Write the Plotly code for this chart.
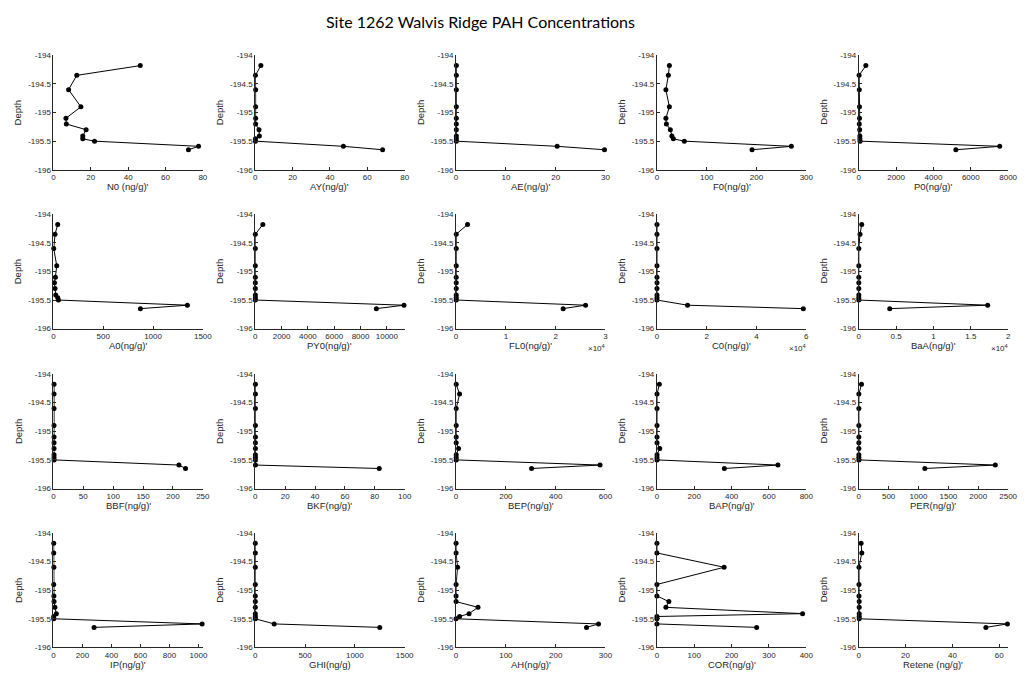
import plotly.graph_objects as go

# Sample depths (m), shared by every compound profile
depth = [-194.18, -194.35, -194.6, -194.9, -195.1, -195.2, -195.3, -195.41, -195.46, -195.5, -195.59, -195.65]

# PAH concentrations (ng/g) at each depth
N0 = [46.5, 12.5, 8.1, 14.7, 6.7, 6.9, 17.5, 15.7, 15.7, 22, 77.7, 72.3]
AY = [3, 0.1, 0.2, 0.2, 0.2, 0.2, 2.0, 2.2, 0.1, 0.1, 47.2, 68.2]
AE = [0.05, 0.05, 0.05, 0.05, 0.05, 0.05, 0.05, 0.05, 0.05, 0.05, 20.3, 29.8]
F0 = [25, 23, 18, 25, 18, 19, 27, 30, 33, 55, 270, 191]
P0 = [380, 20, 30, 40, 40, 30, 50, 60, 60, 70, 7550, 5200]
A0 = [43, 16, 3, 33, 20, 10, 16, 23, 43, 50, 1345, 873]
PY0 = [575, 5, 5, 5, 5, 5, 5, 10, 10, 10, 11300, 9200]
FL0 = [2300, 30, 30, 30, 30, 30, 30, 30, 30, 30, 26000, 21500]
C0 = [30, 30, 30, 30, 30, 30, 30, 30, 30, 30, 12300, 58800]
BaA = [400, 170, 10, 10, 10, 10, 10, 10, 10, 10, 17260, 4150]
BBF = [1, 1, 1, 1, 1, 1, 1, 1, 1, 1, 210, 221]
BKF = [0.1, 0.1, 0.1, 0.1, 0.1, 0.1, 0.1, 0.1, 0.1, 0.1, 0.1, 83]
BEP = [0.5, 14, 0.5, 0.5, 0.5, 0.5, 10, 0.5, 0.5, 0.5, 578, 303]
BAP = [13, 0.5, 0.5, 0.5, 0.5, 0.5, 15, 0.5, 0.5, 0.5, 648, 361]
PER = [46, 2, 2, 2, 2, 2, 2, 2, 2, 2, 2285, 1106]
IP = [2, 2, 3, 2, 3, 4, 10, 20, 2, 2, 1025, 280]
GHI = [0.5, 0.5, 0.5, 0.5, 0.5, 0.5, 0.5, 0.5, 0.5, 0.5, 190, 1250]
AH = [0, 0, 3, 0, 0, 0, 44, 26, 7, 0, 286, 262]
COR = [0, 0, 180, 0, 0, 32, 24, 390, 0, 0, 0, 267]
Retene = [1, 1.3, 0.1, 0.1, 0.1, 0.2, 0.2, 0.2, 0.2, 0.2, 63.5, 54.3]

series = [N0, AY, AE, F0, P0, A0, PY0, FL0, C0, BaA,
          BBF, BKF, BEP, BAP, PER, IP, GHI, AH, COR, Retene]

xlabels = ["N0 (ng/g)'", "AY(ng/g)'", "AE(ng/g)'", "F0(ng/g)'", "P0(ng/g)'",
           "A0(ng/g)'", "PY0(ng/g)'", "FL0(ng/g)'", "C0(ng/g)'", "BaA(ng/g)'",
           "BBF(ng/g)'", "BKF(ng/g)'", "BEP(ng/g)'", "BAP(ng/g)'", "PER(ng/g)'",
           "IP(ng/g)'", "GHI(ng/g)", "AH(ng/g)'", "COR(ng/g)'", "Retene (ng/g)'"]

# x-axis tick values (ng/g) and the text shown for them
xticks = [
    [0, 20, 40, 60, 80], [0, 20, 40, 60, 80], [0, 10, 20, 30], [0, 100, 200, 300],
    [0, 2000, 4000, 6000, 8000],
    [0, 500, 1000, 1500], [0, 2000, 4000, 6000, 8000, 10000], [0, 10000, 20000, 30000],
    [0, 20000, 40000, 60000], [0, 5000, 10000, 15000, 20000],
    [0, 50, 100, 150, 200, 250], [0, 20, 40, 60, 80, 100], [0, 200, 400, 600],
    [0, 200, 400, 600, 800], [0, 500, 1000, 1500, 2000, 2500],
    [0, 200, 400, 600, 800, 1000], [0, 500, 1000, 1500], [0, 100, 200, 300],
    [0, 100, 200, 300, 400], [0, 20, 40, 60],
]
xticktext = [
    ["0", "20", "40", "60", "80"], ["0", "20", "40", "60", "80"], ["0", "10", "20", "30"],
    ["0", "100", "200", "300"], ["0", "2000", "4000", "6000", "8000"],
    ["0", "500", "1000", "1500"], ["0", "2000", "4000", "6000", "8000", "10000"],
    ["0", "1", "2", "3"], ["0", "2", "4", "6"], ["0", "0.5", "1", "1.5", "2"],
    ["0", "50", "100", "150", "200", "250"], ["0", "20", "40", "60", "80", "100"],
    ["0", "200", "400", "600"], ["0", "200", "400", "600", "800"],
    ["0", "500", "1000", "1500", "2000", "2500"],
    ["0", "200", "400", "600", "800", "1000"], ["0", "500", "1000", "1500"],
    ["0", "100", "200", "300"], ["0", "100", "200", "300", "400"], ["0", "20", "40", "60"],
]
xmax = [80, 80, 30, 300, 8000, 1500, 11350, 30000, 60000, 20000,
        250, 100, 600, 800, 2500, 1030, 1500, 300, 400, 63.8]
scaled = [False] * 7 + [True, True, True] + [False] * 10

yticks = [-196, -195.5, -195, -194.5, -194]
yticktext = ["-196", "-195.5", "-195", "-195.5".replace("5.5", "4.5"), "-194"]

W, H = 1029, 683
col_left = [52, 256, 459, 662, 866]
row_top = [52, 213, 375, 536]
pw, ph = 151, 116

axis_col = "#262626"
tick_font = dict(family="Liberation Sans, Arial, sans-serif", size=8, color=axis_col)
label_font = dict(family="Liberation Sans, Arial, sans-serif", size=9.5, color=axis_col)

fig = go.Figure()
annotations = []
layout = {}

for i, vals in enumerate(series):
    r, c = divmod(i, 5)
    n = i + 1
    xa = "x" if n == 1 else f"x{n}"
    ya = "y" if n == 1 else f"y{n}"
    fig.add_trace(go.Scatter(
        x=vals, y=depth, mode="lines+markers",
        line=dict(color="black", width=1),
        marker=dict(color="black", size=5),
        cliponaxis=False, showlegend=False,
        xaxis=xa, yaxis=ya,
    ))
    x0 = col_left[c]
    top = row_top[r]
    layout["xaxis" if n == 1 else f"xaxis{n}"] = dict(
        domain=[x0 / W, (x0 + pw) / W], anchor=ya,
        range=[0, xmax[i]], tickvals=xticks[i], ticktext=xticktext[i],
        showline=True, linecolor=axis_col, linewidth=1,
        ticks="inside", ticklen=3, tickcolor=axis_col, tickwidth=1,
        showgrid=False, zeroline=False, tickfont=tick_font, fixedrange=True,
    )
    layout["yaxis" if n == 1 else f"yaxis{n}"] = dict(
        domain=[1 - (top + ph) / H, 1 - top / H], anchor=xa,
        range=[-196, -194], tickvals=yticks, ticktext=yticktext,
        showline=True, linecolor=axis_col, linewidth=1,
        ticks="inside", ticklen=3, tickcolor=axis_col, tickwidth=1,
        showgrid=False, zeroline=False, tickfont=tick_font, fixedrange=True,
    )
    annotations.append(dict(
        text="Depth", textangle=-90, font=label_font,
        xref="paper", yref="paper", x=(x0 - 36) / W, y=1 - (top + ph / 2) / H,
        xanchor="center", yanchor="middle", showarrow=False,
    ))
    annotations.append(dict(
        text=xlabels[i], font=label_font,
        xref="paper", yref="paper", x=(x0 + pw / 2) / W, y=1 - (top + ph + 17) / H,
        xanchor="center", yanchor="middle", showarrow=False,
    ))
    if scaled[i]:
        annotations.append(dict(
            text="×10<sup>4</sup>", font=dict(family=tick_font["family"], size=8, color=axis_col),
            xref="paper", yref="paper", x=(x0 + pw + 2) / W, y=1 - (top + ph + 20) / H,
            xanchor="right", yanchor="middle", showarrow=False,
        ))

annotations.append(dict(
    text="Site 1262 Walvis Ridge PAH Concentrations",
    font=dict(family="Lato, Noto Sans, sans-serif", size=16, color="black"),
    xref="paper", yref="paper", x=484 / W, y=1 - 18 / H,
    xanchor="center", yanchor="middle", showarrow=False,
))

fig.update_layout(
    width=W, height=H, margin=dict(l=0, r=0, t=0, b=0),
    paper_bgcolor="white", plot_bgcolor="white",
    annotations=annotations, **layout,
)

fig.write_html("out.html", config={"displayModeBar": False})
